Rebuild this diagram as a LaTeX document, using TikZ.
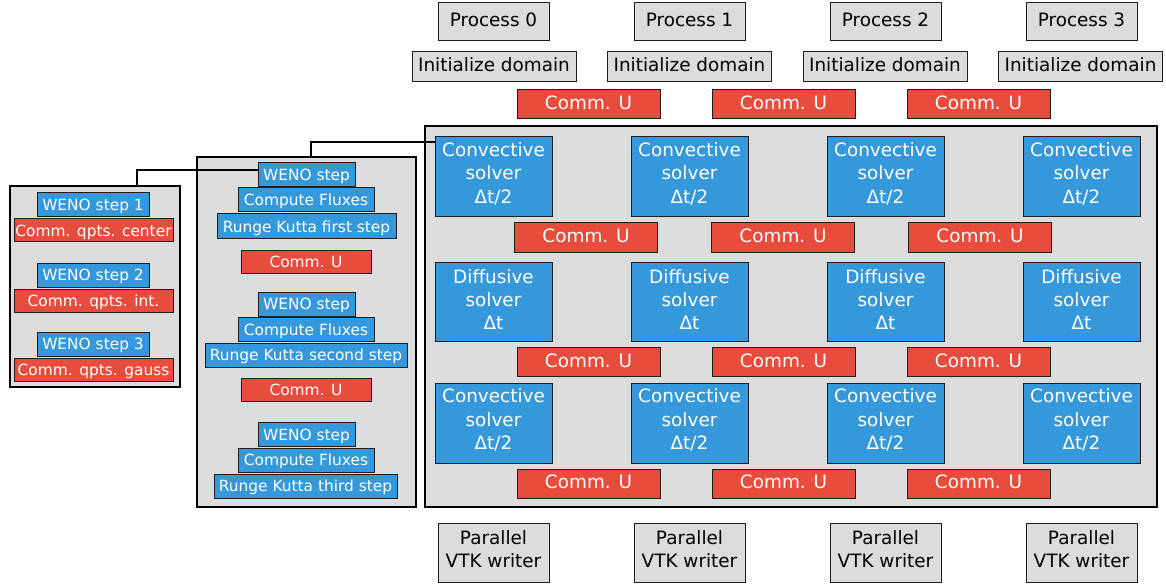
\documentclass[tikz,border=0pt]{standalone}
\usepackage{fontspec}
\setmainfont{DejaVu Sans}
\definecolor{cblue}{HTML}{3498DB}
\definecolor{cred}{HTML}{E74C3C}
\definecolor{cgrey}{HTML}{DCDCDC}
\definecolor{cedge}{HTML}{1E1E1E}
\newcommand\tlinesbox[4]{\raisebox{0pt}[10pt][#1]{\begin{tabular}[t]{@{}c@{}}#2\\#3\\#4\end{tabular}}}
\newcommand\twolinesbox[2]{\raisebox{0pt}[5pt][21.4pt]{\begin{tabular}[t]{@{}c@{}}#1\\#2\end{tabular}}}
\begin{document}
\begin{tikzpicture}[x=1pt,y=-1pt,
  bigfont/.style={font=\fontsize{18.4}{23.3}\selectfont},
  smallfont/.style={font=\fontsize{15.4}{19}\selectfont},
  box/.style={draw=cedge, line width=1pt, inner sep=0pt, align=center},
  greybox/.style={box, fill=cgrey, text=black},
  bluebox/.style={box, fill=cblue, text=white},
  redbox/.style={box, fill=cred, text=white},
  panel/.style={draw=black, line width=2pt, fill=cgrey, inner sep=0pt},
  conn/.style={draw=black, line width=2pt},
  sbox/.style={smallfont, text height=12.5pt, text depth=1pt, minimum height=24},
  bbox/.style={bigfont, text height=13pt, text depth=3pt}
]
\useasboundingbox (0,0) rectangle (1166,585);

% panels
\node[panel, minimum width=170, minimum height=201] (lp) at (95,286.5) {};
\node[panel, minimum width=219, minimum height=350] (mp) at (306.5,332) {};
\node[panel, minimum width=732, minimum height=381] (bp) at (791,316.5) {};

% columns
\foreach \i in {0,...,3} {
  \node[greybox, bbox, minimum width=111, minimum height=38] (p\i) at ({493.5+196*\i},22) {Process \i};
  \node[greybox, bbox, minimum width=164, minimum height=30] (in\i) at ({494+195.5*\i},67) {Initialize domain};
  \node[bluebox, bigfont, minimum width=117, minimum height=80] (ca\i) at ({493.5+196*\i},177) {\tlinesbox{50.6pt}{Convective}{solver}{Δt/2}};
  \node[bluebox, bigfont, minimum width=117, minimum height=79] (d\i) at ({493.5+196*\i},301.5) {\tlinesbox{46.4pt}{Diffusive}{solver}{Δt}};
  \node[bluebox, bigfont, minimum width=117, minimum height=80] (cb\i) at ({493.5+196*\i},423) {\tlinesbox{50.6pt}{Convective}{solver}{Δt/2}};
  \node[greybox, bigfont, minimum width=111, minimum height=59] (w\i) at ({493.5+196*\i},552.5) {\twolinesbox{Parallel}{VTK writer}};
}
\foreach \i in {0,...,2} {
  \node[redbox, bbox, minimum width=143, minimum height=29] (ut\i) at ({588.5+195*\i},104.5) {Comm. U};
  \node[redbox, bbox, minimum width=143, minimum height=29] (ua\i) at ({586+197*\i},237.5) {Comm. U};
  \node[redbox, bbox, minimum width=143, minimum height=29] (ub\i) at ({588.5+195*\i},362) {Comm. U};
  \node[redbox, bbox, minimum width=143, minimum height=29] (uc\i) at ({588.5+195*\i},483.5) {Comm. U};
}

% connectors
\coordinate (j1) at (137,170);
\coordinate (j2) at (311,142);
\draw[conn] (mp.north -| j2) |- (ca0.west |- j2);

% middle panel
\node[bluebox, sbox, minimum width=97] (m1w) at (306.5,175) {WENO step};
\draw[conn] (lp.north -| j1) |- (m1w.west |- j1);
\node[bluebox, sbox, minimum width=136] (m1f) at (306,200) {Compute Fluxes};
\node[bluebox, sbox, minimum width=179, minimum height=25] (m1r) at (306.5,226.5) {Runge Kutta first step};
\node[redbox, sbox, minimum width=130, minimum height=23] (m1u) at (306,261.5) {Comm. U};
\node[bluebox, sbox, minimum width=97] (m2w) at (306.5,304) {WENO step};
\node[bluebox, sbox, minimum width=136] (m2f) at (306,329.5) {Compute Fluxes};
\node[bluebox, sbox, minimum width=202] (m2r) at (306,355) {Runge Kutta second step};
\node[redbox, sbox, minimum width=130, minimum height=23] (m2u) at (306,389.5) {Comm. U};
\node[bluebox, sbox, minimum width=97] (m3w) at (306.5,434.5) {WENO step};
\node[bluebox, sbox, minimum width=136] (m3f) at (306,460) {Compute Fluxes};
\node[bluebox, sbox, minimum width=183] (m3r) at (305.5,486) {Runge Kutta third step};

% left panel
\node[bluebox, sbox, minimum width=112] (l1w) at (93,205) {WENO step 1};
\node[redbox, sbox, minimum width=159, minimum height=23] (l1c) at (93.5,230.5) {Comm. qpts. center};
\node[bluebox, sbox, minimum width=112] (l2w) at (93,275) {WENO step 2};
\node[redbox, sbox, minimum width=159, minimum height=23] (l2c) at (93.5,300.5) {Comm. qpts. int.};
\node[bluebox, sbox, minimum width=112] (l3w) at (93,344) {WENO step 3};
\node[redbox, sbox, minimum width=159, minimum height=23] (l3c) at (93.5,370) {Comm. qpts. gauss};
\end{tikzpicture}
\end{document}
